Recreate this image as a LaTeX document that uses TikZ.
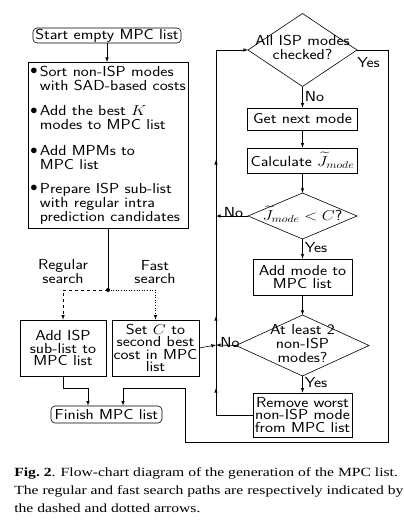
\documentclass[tikz,border=0pt]{standalone}
\usepackage{fontspec}
\usepackage{amssymb,amsmath,graphicx}
\newfontfamily\capfont[FakeStretch=1.25]{Liberation Serif}
\newfontfamily\diafont[FakeStretch=1.17]{Latin Modern Sans}
\usetikzlibrary{shapes.geometric}

\tikzset{
  box/.style={draw, rectangle, inner sep=0pt, align=center},
  term/.style={draw, rectangle, rounded corners=4pt, inner sep=0pt},
  decision/.style={draw, diamond, inner sep=0pt, outer sep=0pt},
  lbl/.style={inner sep=0pt, align=center}
}
% diamond text: takes no room, so the diamond keeps its own size
\newcommand{\dtext}[1]{\makebox[0pt]{\smash{\raisebox{-3pt}{\begin{tabular}{@{}c@{}}#1\end{tabular}}}}}
\newcommand{\wide}[1]{\scalebox{1.17}[1]{#1}}
\newcommand{\Jm}{\wide{$\widetilde{J}_{mode}$}}
\newcommand{\bul}{\raisebox{1.5pt}{$\bullet$}}

\begin{document}
\begin{tikzpicture}[x=1pt, y=-1pt, line width=0.6pt, >=latex,
  every node/.style={font=\diafont\fontsize{14.5}{12.5}\selectfont}]
\useasboundingbox (0,0) rectangle (404,523);

% left column
\node[term, minimum width=148pt, minimum height=15pt] (start) at (107,35.5) {Start empty MPC list};
\node[box, minimum width=160pt, minimum height=166pt, anchor=north] (sort) at (108,62)
  {\begin{tabular}{@{}l@{\,}l@{}}
   \bul & Sort non-ISP modes\\
    & with SAD-based costs\\[12pt]
   \bul & Add the best \wide{$K$}\\
    & modes to MPC list\\[12pt]
   \bul & Add MPMs to\\
    & MPC list\\[10pt]
   \bul & Prepare ISP sub-list\\
    & with regular intra\\
    & prediction candidates
   \end{tabular}};
\coordinate (split) at (108,290);
\node[box, minimum width=86pt, minimum height=56pt] (addisp) at (63,348) {Add ISP\\sub-list to\\MPC list};
\node[box, minimum width=87pt, minimum height=56pt] (setc) at (155.5,348) {Set \wide{$C$} to\\second best\\cost in MPC\\list};
\node[term, minimum width=111pt, minimum height=17pt] (finish) at (106.5,414.5) {Finish MPC list};
\node[lbl] (regular) at (63,272) {Regular\\search};
\node[lbl] (fast) at (155,272) {Fast\\search};

% right column
\node[decision, minimum width=109pt, minimum height=73pt] (allisp) at (302.5,50) {\dtext{All ISP modes\\checked?}};
\node[box, minimum width=110pt, minimum height=22pt] (next) at (302.5,119) {Get next mode};
\node[box, minimum width=110pt, minimum height=25pt] (calc) at (302.5,160.5) {Calculate \Jm};
\node[decision, minimum width=109pt, minimum height=46pt] (less) at (302.5,216) {\dtext{\wide{$\widetilde{J}_{mode} < C$}?}};
\node[box, minimum width=99pt, minimum height=36pt] (addmode) at (302.5,277) {Add mode to\\MPC list};
\node[decision, minimum width=133pt, minimum height=61pt] (least) at (302.5,345.5) {\dtext{At least 2\\non-ISP\\modes?}};
\node[box, minimum width=99pt, minimum height=44pt] (remove) at (302.5,415) {Remove worst\\non-ISP mode\\from MPC list};

% loop back and exit lines
\coordinate (loopbot) at (216,415);
\coordinate (loopmid) at (216,345);
\coordinate (looptop) at (216,50);
\coordinate (exitbot) at (388,442);
\coordinate (exitin) at (123,388);

\draw[->] (start) -- (start |- sort.north);
\draw (sort.south -| split) -- (split);
\fill (split) circle (2pt);
\draw[->, dashed] (split) -| (addisp);
\draw[->, dotted] (split) -| (setc);
\draw[->] (addisp.south) -- ++(0,12) -| (finish.north -| 88,0);
\draw[->] (allisp.east) -| (exitbot) -| (185,388) -- (exitin) -- (exitin |- finish.north);

\draw[->] (allisp) -- (next) node[pos=0.45, right, lbl, xshift=2pt] {No};
\draw[->] (next) -- (calc);
\draw[->] (calc) -- (less);
\draw[->] (less) -- (addmode) node[pos=0.45, right, lbl, xshift=2pt] {Yes};
\draw[->] (addmode) -- (least);
\draw[->] (least) -- (remove) node[pos=0.4, right, lbl, xshift=2pt] {Yes};
\draw[->] (less.west) -- (less.west -| loopmid) node[pos=0.45, above, lbl, yshift=-2pt] {No};
\draw[->] (least.west) -- (loopmid) node[pos=0.3, above, lbl, yshift=-3pt] {No};
\draw[->] (setc.east) -- (loopmid);
\draw[->] (remove.west) -- (loopbot) -- (216,388);
\draw[->] (216,392) -- (216,316);
\draw[->] (216,320) -- (216,160);
\draw[->] (216,164) -- (looptop) -- (allisp.west);
\node[lbl, anchor=west] (yes) at (357,63) {Yes};

% caption
\node[anchor=north west, inner sep=0pt, align=left,
  font=\capfont\fontsize{12.5}{18}\selectfont] (caption) at (14,467)
  {\textbf{Fig.~2}. Flow-chart diagram of the generation of the MPC list.\\
   The regular and fast search paths are respectively indicated by\\
   the dashed and dotted arrows.};
\end{tikzpicture}
\end{document}
